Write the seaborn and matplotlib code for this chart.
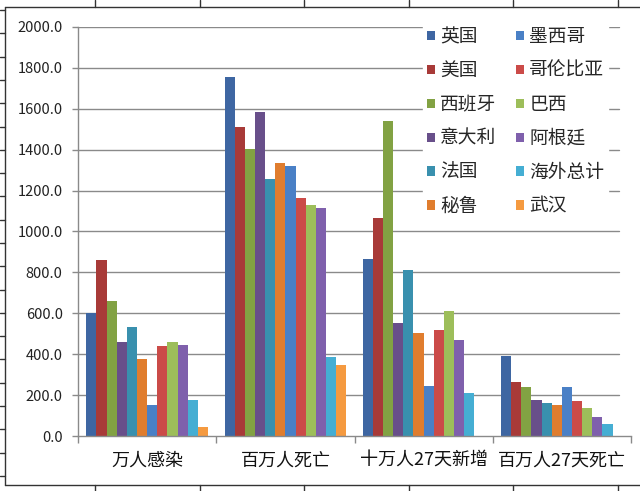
import matplotlib
matplotlib.use("Agg")
import matplotlib.pyplot as plt
from matplotlib.lines import Line2D
import seaborn as sns
import pandas as pd
import numpy as np

categories = ["万人感染", "百万人死亡", "十万人27天新增", "百万人27天死亡"]
countries = ["英国", "美国", "西班牙", "意大利", "法国", "秘鲁",
             "墨西哥", "哥伦比亚", "巴西", "阿根廷", "海外总计", "武汉"]
colors = ["#3E66A2", "#A83A38", "#82A243", "#684F8A", "#3990AE", "#E07D2E",
          "#4A80C6", "#CB4B48", "#9DBE5A", "#7F60AC", "#45AED3", "#F59A40"]

values = {
    "英国":     [600, 1755, 865, 390],
    "美国":     [860, 1512, 1065, 262],
    "西班牙":   [660, 1405, 1540, 240],
    "意大利":   [460, 1583, 555, 177],
    "法国":     [532, 1256, 810, 163],
    "秘鲁":     [377, 1335, 505, 150],
    "墨西哥":   [150, 1321, 246, 240],
    "哥伦比亚": [440, 1164, 518, 171],
    "巴西":     [462, 1129, 610, 135],
    "阿根廷":   [447, 1115, 470, 93],
    "海外总计": [176, 388, 211, 58],
    "武汉":     [42, 346, np.nan, np.nan],
}

rows = []
for c in countries:
    for cat, v in zip(categories, values[c]):
        rows.append({"category": cat, "country": c, "value": v})
df = pd.DataFrame(rows)

sns.set_style("white")
plt.rcParams['font.family'] = ['Noto Sans CJK SC', 'DejaVu Sans']

fig = plt.figure(figsize=(6.4, 4.91), dpi=100)
ax = fig.add_axes([78/640, 1-436/491, (631-78)/640, (436-27)/491])

yticks = np.arange(0, 2001, 200)
for t in yticks[1:]:
    ax.axhline(t, xmin=0, xmax=(619-78)/(631-78), color="#8a8a8a", lw=1.0, zorder=0)

sns.barplot(data=df, x="category", y="value", hue="country",
            hue_order=countries, order=categories, palette=colors,
            width=0.88, gap=0, saturation=1, errorbar=None, ax=ax, zorder=2,
            linewidth=0)

ax.set_ylim(0, 2000)
ax.set_xlim(-0.5, 3.5)
ax.set_yticks(yticks)
ax.set_yticklabels([f"{t:.1f}" for t in yticks], fontsize=10.5, color="#222222")
ax.tick_params(axis="y", length=4, width=1, color="#8a8a8a", pad=7, left=True)

ax.set_xticks([-0.5, 0.5, 1.5, 2.5, 3.5])
ax.set_xticklabels([])
ax.set_xticks([0, 1, 2, 3], minor=True)
ax.set_xticklabels(categories, minor=True, fontsize=13, color="#111111")
ax.tick_params(axis="x", which="major", length=5, width=1, color="#8a8a8a", bottom=True)
ax.tick_params(axis="x", which="minor", length=0, pad=11)
ax.set_xlabel("")
ax.set_ylabel("")

for s in ["top", "right"]:
    ax.spines[s].set_visible(False)
for s in ["left", "bottom"]:
    ax.spines[s].set_color("#8a8a8a")
    ax.spines[s].set_linewidth(1)

leg = ax.legend(ncol=2, loc="upper left", bbox_to_anchor=(414/640, 1-13/491),
                bbox_transform=fig.transFigure, frameon=True, framealpha=1,
                edgecolor="white", facecolor="white", fontsize=13.5,
                handlelength=0.4, handleheight=0.4, handletextpad=0.3,
                columnspacing=1.05, labelspacing=0.69, borderpad=0.2)
leg.set_zorder(5)

# spreadsheet cell borders around the chart
lc = "#333333"
def fl(x0, y0, x1, y1):
    fig.add_artist(Line2D([x0/640, x1/640], [1-y0/491, 1-y1/491],
                          color=lc, lw=1.0, transform=fig.transFigure))
fl(5, 7, 640, 7)
fl(5, 485, 640, 485)
fl(5, 7, 5, 485)
for xp in [95, 200, 304, 409, 513, 618]:
    fl(xp, 0, xp, 7)
    fl(xp, 485, xp, 491)
for yp in np.arange(10, 485, 23.3):
    fl(0, yp, 5, yp)

fig.savefig("out.png", dpi=100, facecolor="white")
